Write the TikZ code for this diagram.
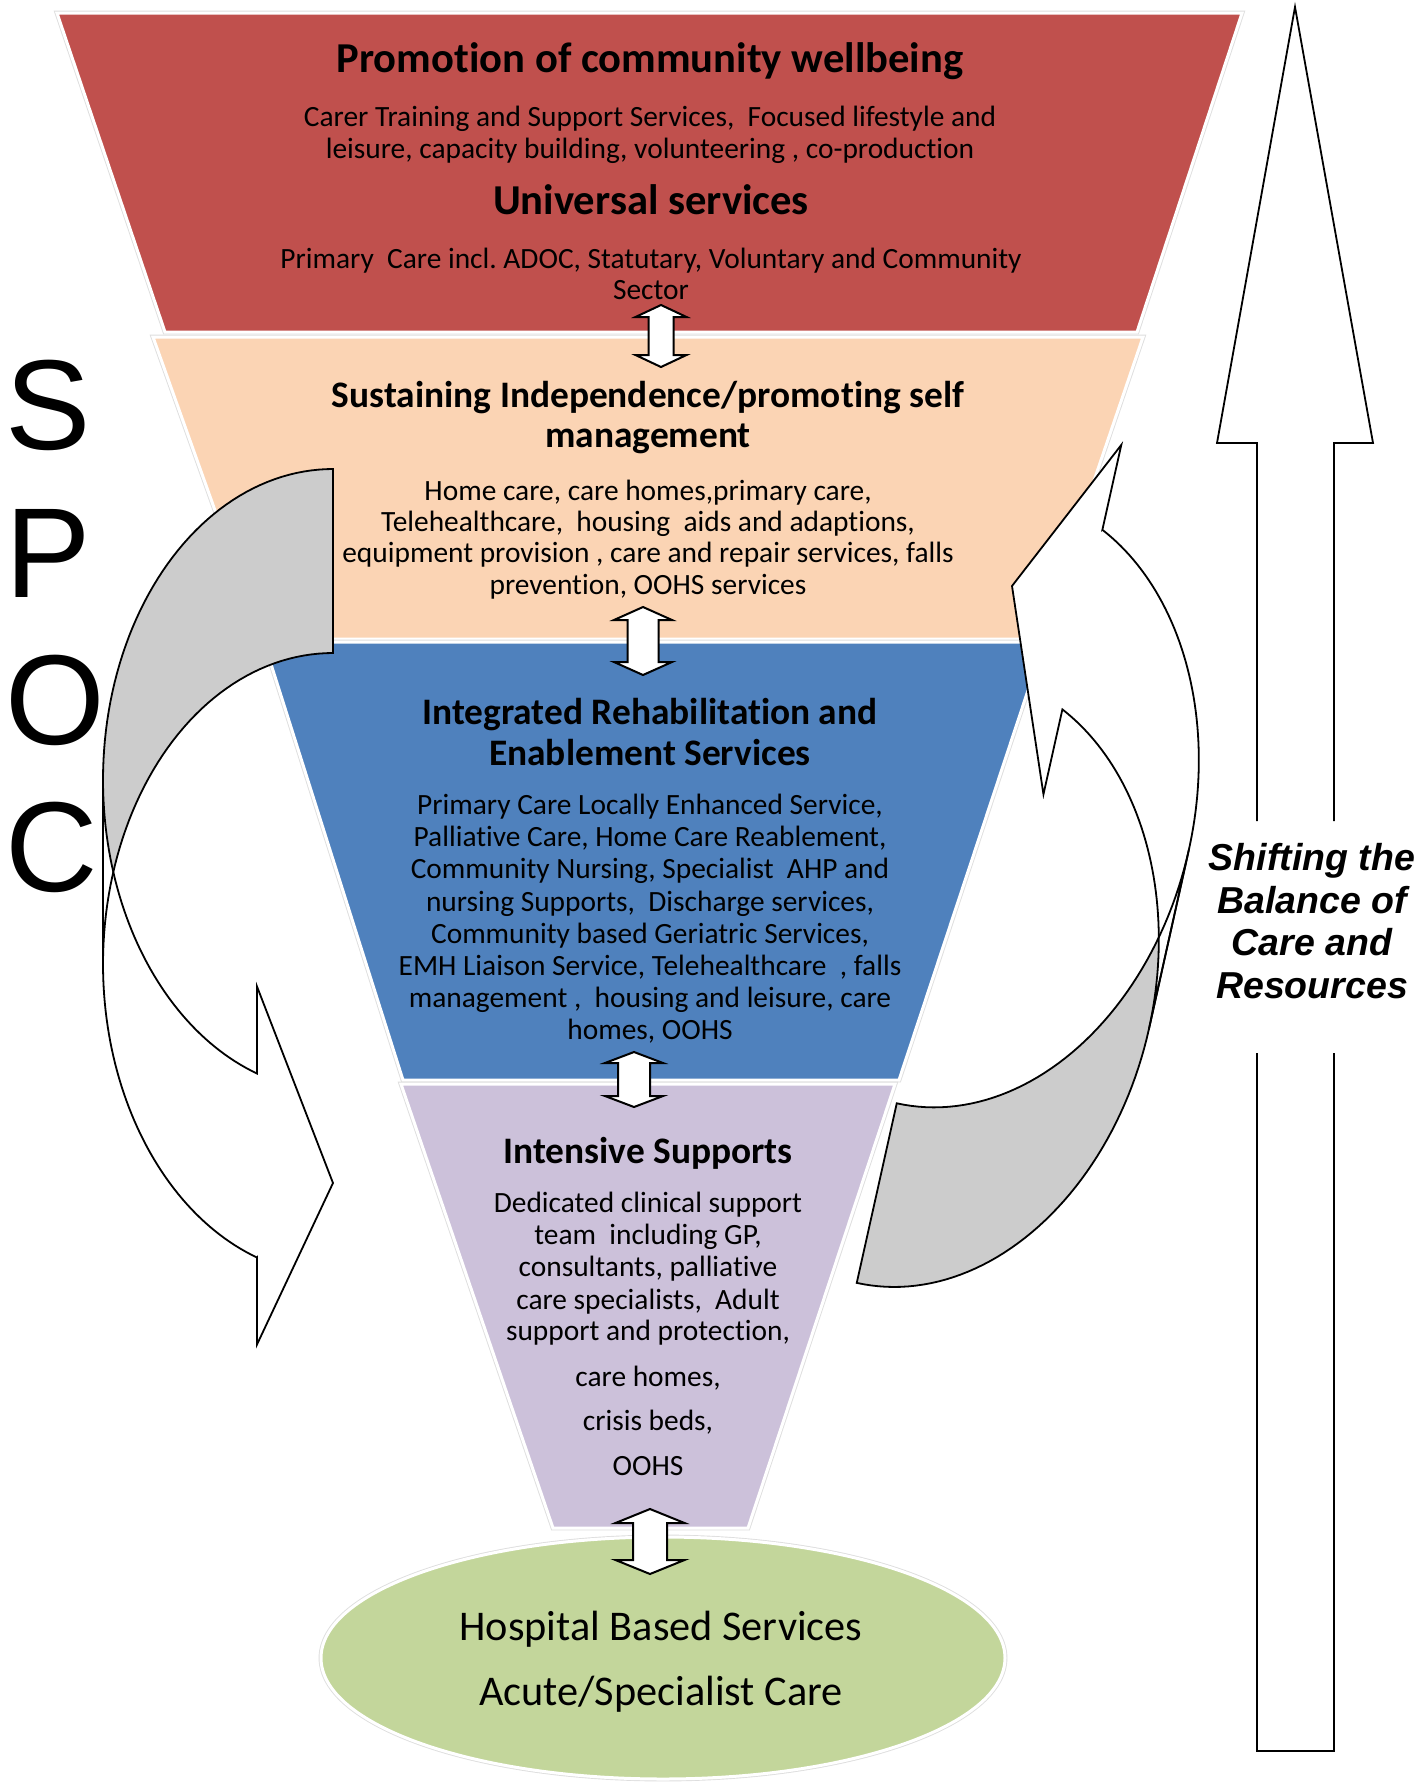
\documentclass[tikz,border=0pt]{standalone}
\usepackage{fontspec}
\setmainfont{Carlito}[Ligatures=NoCommon]
\newfontfamily\arialfont{Liberation Sans}
\definecolor{cred}{HTML}{C0504D}
\definecolor{cpeach}{HTML}{FBD4B4}
\definecolor{cblue}{HTML}{4F81BD}
\definecolor{clav}{HTML}{CCC1DA}
\definecolor{cgreen}{HTML}{C3D69B}
\definecolor{cgray}{HTML}{CCCCCC}
\frenchspacing
\tikzset{
  rim/.style={draw=black!13, line width=2.4pt},
  seg/.style={draw=white, line width=1.5pt},
  body/.style={font=\fontsize{14.7}{17}\selectfont, anchor=base, inner sep=0pt},
  head/.style={font=\fontsize{18.7}{22}\selectfont\bfseries, anchor=base, inner sep=0pt},
  bighead/.style={font=\fontsize{21.3}{25}\selectfont\bfseries, anchor=base, inner sep=0pt},
  hosp/.style={font=\fontsize{21.15}{24}\selectfont, anchor=base, inner sep=0pt},
  outl/.style={draw=black, line width=0.9pt, line join=miter},
  dbl/.style={draw=black, fill=white, line width=1pt, line join=miter},
  spoc/.style={font=\arialfont\fontsize{64}{64}\selectfont, anchor=base west, inner sep=0pt},
  shift text/.style={font=\arialfont\bfseries\itshape\fontsize{18.75}{21}\selectfont, anchor=base, inner sep=0pt},
}
% double-headed vertical arrow: cx, top, bottom, head half width, shaft half width, head length
\newcommand\udarr[6]{%
  \path[dbl] (#1,#2) -- (#1+#4,#2+#6) -- (#1+#5,#2+#6) -- (#1+#5,#3-#6) -- (#1+#4,#3-#6)
    -- (#1,#3) -- (#1-#4,#3-#6) -- (#1-#5,#3-#6) -- (#1-#5,#2+#6) -- (#1-#4,#2+#6) -- cycle;}
% curved right arrow (PowerPoint style)
\newcommand\backpath{plot[domain=270:180,samples=50] ({333+230*cos(\x)},{780+311*sin(\x)}) -- (103,964)
   -- plot[domain=180:270,samples=50] ({333+230*cos(\x)},{964+311*sin(\x)}) -- cycle}
\newcommand\frontpath{(103,780) -- plot[domain=180:109.3,samples=50] ({333+230*cos(\x)},{780+311*sin(\x)})
   -- (257,986.5) -- (333,1183) -- (257,1344.5) -- (257,1257.5)
   -- plot[domain=109.3:180,samples=50] ({333+230*cos(\x)},{964+311*sin(\x)}) -- cycle}
\newcommand\curvarr{%
  \fill[cgray] \backpath;
  \fill[white] \frontpath;
  \draw[outl] \backpath;
  \draw[outl] \frontpath;}
\begin{document}
\begin{tikzpicture}[x={(0.5pt,0)}, y={(0,-0.5pt)}]
\useasboundingbox (0,0) rectangle (1427,1783);

% SPOC
\node[spoc] (sS) at (5,449) {S};
\node[spoc] (sP) at (5,597) {P};
\node[spoc] (sO) at (5,744) {O};
\node[spoc] (sC) at (5,891) {C};

% funnel
\path[rim] (57,13) -- (1242,13) -- (1137,332) -- (165,332) -- cycle;
\path[seg, fill=cred] (57,13) -- (1242,13) -- (1137,332) -- (165,332) -- cycle;
\path[rim] (153,337) -- (1143,337) -- (1040,639) -- (261,639) -- cycle;
\path[seg, fill=cpeach] (153,337) -- (1143,337) -- (1040,639) -- (261,639) -- cycle;
\path[rim] (264,642) -- (1044,642) -- (899,1080) -- (403,1080) -- cycle;
\path[seg, fill=cblue] (264,642) -- (1044,642) -- (899,1080) -- (403,1080) -- cycle;
\path[rim] (401,1084) -- (895,1084) -- (748,1528) -- (553,1528) -- cycle;
\path[seg, fill=clav] (401,1084) -- (895,1084) -- (748,1528) -- (553,1528) -- cycle;
\path[rim] (663,1658) ellipse [x radius=171pt, y radius=60.5pt];
\path[seg, fill=cgreen] (663,1658) ellipse [x radius=171pt, y radius=60.5pt];

% red texts
\node[bighead] (promo) at (650,72) {Promotion of community wellbeing};
\node[body] (r1) at (650,126) {Carer Training and Support Services,~ Focused lifestyle and};
\node[body] (r2) at (650,158) {leisure, capacity building, volunteering , co-production};
\node[bighead] (univ) at (651,214.5) {Universal services};
\node[body] (r3) at (651,268) {Primary~ Care incl. ADOC, Statutary, Voluntary and Community};
\node[body] (r4) at (651,299) {Sector};

% peach texts
\node[head] (ph1) at (648,407) {Sustaining Independence/promoting self};
\node[head] (ph2) at (648,447.5) {management};
\node[body] (p1) at (648,500) {Home care, care homes,primary care,};
\node[body] (p2) at (648,531) {Telehealthcare,~ housing~ aids and adaptions,};
\node[body] (p3) at (648,562) {equipment provision , care and repair services, falls};
\node[body] (p4) at (648,594) {prevention, OOHS services};

% blue texts
\node[head] (bh1) at (650,724) {Integrated Rehabilitation and};
\node[head] (bh2) at (650,765) {Enablement Services};
\node[body] (b1) at (650,814) {Primary Care Locally Enhanced Service,};
\node[body] (b2) at (650,846) {Palliative Care, Home Care Reablement,};
\node[body] (b3) at (650,878) {Community Nursing, Specialist~ AHP and};
\node[body] (b4) at (650,911) {nursing Supports,~ Discharge services,};
\node[body] (b5) at (650,943) {Community based Geriatric Services,};
\node[body] (b6) at (650,975) {EMH Liaison Service, Telehealthcare~ , falls};
\node[body] (b7) at (650,1007) {management ,~ housing and leisure, care};
\node[body] (b8) at (650,1039) {homes, OOHS};

% lavender texts
\node[head] (lh1) at (648,1163) {Intensive Supports};
\node[body] (l1) at (648,1212) {Dedicated clinical support};
\node[body] (l2) at (648,1244) {team~ including GP,};
\node[body] (l3) at (648,1276) {consultants, palliative};
\node[body] (l4) at (648,1309) {care specialists,~ Adult};
\node[body] (l5) at (648,1340) {support and protection,};
\node[body] (l6) at (648,1386) {care homes,};
\node[body] (l7) at (648,1430) {crisis beds,};
\node[body] (l8) at (648,1475) {OOHS};

% hospital texts
\node[hosp] (h1) at (661,1640) {Hospital Based Services};
\node[hosp] (h2) at (661,1705) {Acute/Specialist Care};

% double arrows
\udarr{661}{305}{367}{25.5}{12.5}{12}
\udarr{643}{607}{675}{29}{15.5}{13}
\udarr{634}{1052}{1107}{29}{16}{11}
\udarr{650}{1509}{1574}{34.5}{17}{14}

% curved arrows
\curvarr
\begin{scope}[shift={(1012,586)}, rotate=167.44, shift={(-333,-1183)}]
\curvarr
\end{scope}

% big up arrow
\draw[outl] (1257,821) -- (1257,443) -- (1217,443) -- (1295,7) -- (1373,443) -- (1334,443) -- (1334,821);
\draw[outl] (1257,1053) -- (1257,1751) -- (1334,1751) -- (1334,1053);
\node[shift text] (t1) at (1312,870) {Shifting the};
\node[shift text] (t2) at (1312,913) {Balance of};
\node[shift text] (t3) at (1312,955) {Care and};
\node[shift text] (t4) at (1312,998) {Resources};
\end{tikzpicture}
\end{document}
